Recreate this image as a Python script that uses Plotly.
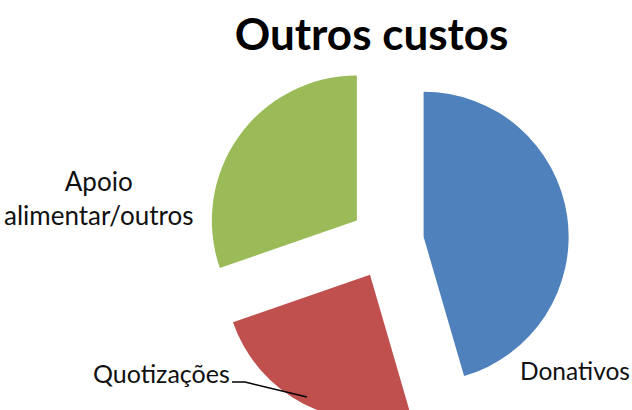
import plotly.graph_objects as go

labels = ["Donativos", "Quotizações", "Apoio alimentar/outros"]
values = [45.5, 24.2, 30.3]
colors = ["#4F81BD", "#C0504D", "#9BBB59"]
title_text = "Outros custos"

W, H = 632, 430
MT, MB, ML, MR = 60, 6, 0, 0
PH = H - MT - MB
PW = W - ML - MR


def px(x):
    return (x - ML) / PW


def py(y):
    return 1 - (y - MT) / PH


FONT = "Lato, 'Open Sans', sans-serif"

fig = go.Figure(
    go.Pie(
        labels=labels,
        values=values,
        marker=dict(colors=colors, line=dict(width=0)),
        sort=False,
        direction="clockwise",
        rotation=0,
        pull=[0.255, 0.255, 0.255],
        textinfo="none",
        hoverinfo="label+percent",
        domain=dict(x=[px(205), px(569)], y=[0, 1]),
        showlegend=False,
    )
)

annots = [
    dict(text="Apoio<br>alimentar/outros", x=px(98), y=py(198), size=26),
    dict(text="Quotizações", x=px(161), y=py(373), size=25),
    dict(text="Donativos", x=px(575), y=py(370), size=24.5),
]
for a in annots:
    fig.add_annotation(
        text=a["text"], x=a["x"], y=a["y"], xref="paper", yref="paper",
        xanchor="center", yanchor="middle", showarrow=False,
        font=dict(family=FONT, size=a["size"], color="#111111"),
    )

fig.add_shape(
    type="path",
    path=f"M {px(232)} {py(382)} L {px(245)} {py(382)} L {px(307)} {py(397)}",
    xref="paper", yref="paper",
    line=dict(color="#000000", width=1.5),
)

fig.update_layout(
    width=W, height=H,
    margin=dict(t=MT, b=MB, l=ML, r=MR),
    paper_bgcolor="white", plot_bgcolor="white",
    title=dict(
        text=f"<b>{title_text}</b>", x=371.5 / W, xanchor="center",
        y=1 - 35 / H, yanchor="middle",
        font=dict(family=FONT, size=44, color="#000000"),
    ),
)

fig.write_html(
    "out.html",
    config={"displayModeBar": False},
    post_script="document.body.style.margin='0';document.body.style.overflow='hidden';",
)
